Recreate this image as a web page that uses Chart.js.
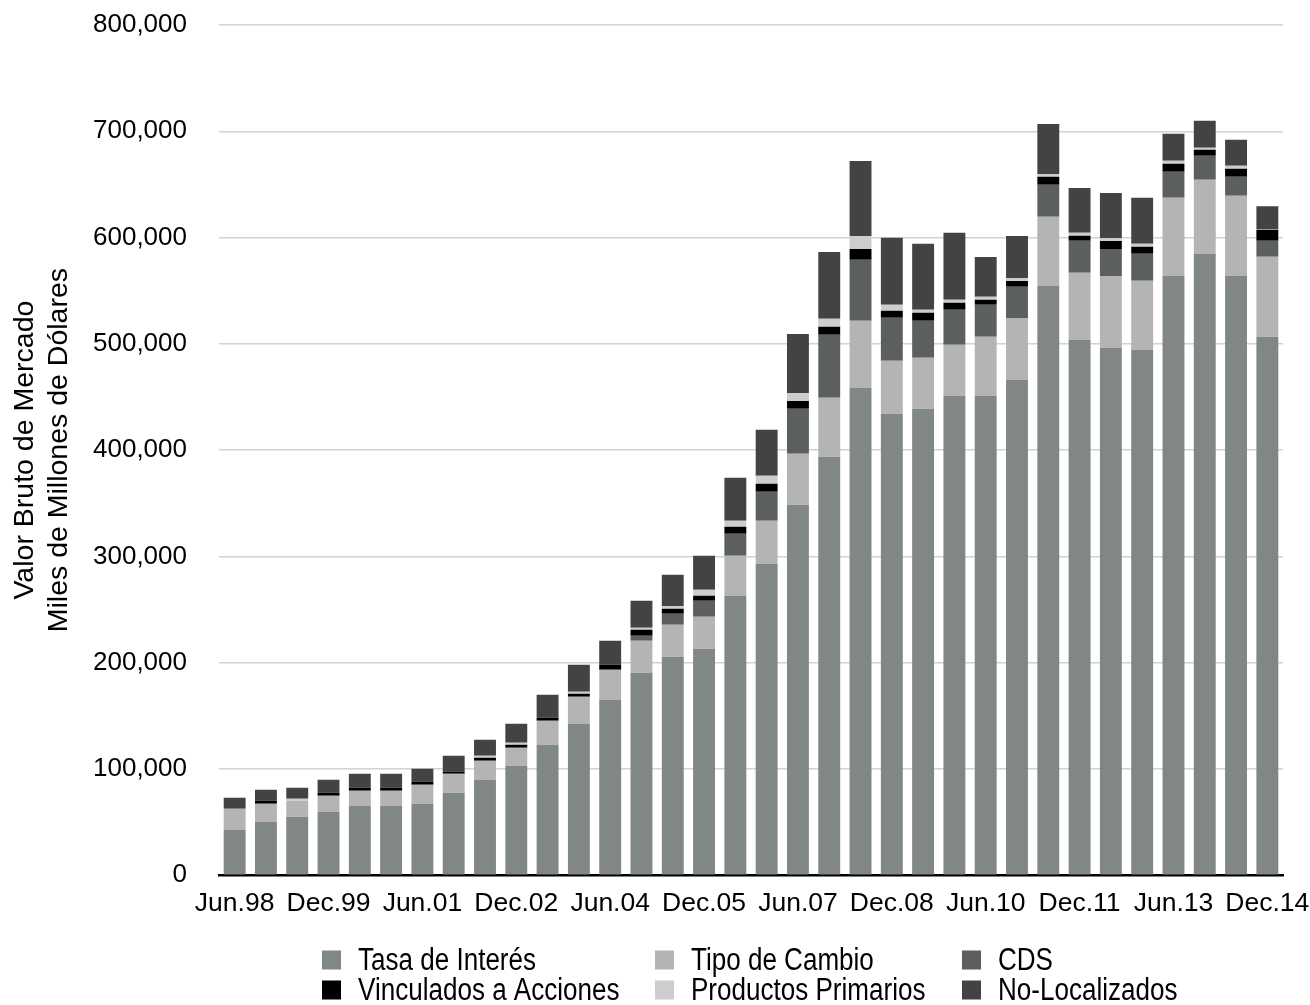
<!DOCTYPE html>
<html>
<head>
<meta charset="utf-8">
<script src="https://cdn.jsdelivr.net/npm/chart.js@4.4.1/dist/chart.umd.min.js"></script>
<style>
  html, body { margin: 0; padding: 0; background: #ffffff; }
  canvas { display: block; }
</style>
</head>
<body>
<canvas id="chart" width="1310" height="1005"></canvas>
<script>
// Semiannual periods, Jun.98 to Dec.14
const periods = [
  'Jun.98','Dec.98','Jun.99','Dec.99','Jun.00','Dec.00','Jun.01','Dec.01',
  'Jun.02','Dec.02','Jun.03','Dec.03','Jun.04','Dec.04','Jun.05','Dec.05',
  'Jun.06','Dec.06','Jun.07','Dec.07','Jun.08','Dec.08','Jun.09','Dec.09',
  'Jun.10','Dec.10','Jun.11','Dec.11','Jun.12','Dec.12','Jun.13','Dec.13',
  'Jun.14','Dec.14'
];

// Gross market value by risk category (miles de millones de dólares)
const tasaInteres = [
  42800, 50300, 55000, 59700, 65400, 65400, 67300, 77600,
  89800, 103000, 122800, 142500, 165100, 190500, 205500, 213100,
  263000, 293000, 348500, 393700, 458600, 434100, 438900, 451100,
  451100, 466100, 554600, 503800, 496200, 494400, 564000, 584700,
  564000, 506600
];
const tipoCambio = [
  19800, 16900, 15100, 15000, 14100, 14100, 17900, 17900,
  17900, 16900, 22600, 25400, 28200, 30100, 30100, 30100,
  37600, 40500, 48000, 55500, 63000, 49900, 48000, 48000,
  55500, 58300, 64900, 63000, 67700, 64900, 73400, 69600,
  75300, 75300
];
const cds = [
  0, 0, 0, 0, 0, 0, 0, 0,
  0, 0, 0, 0, 0, 4700, 10300, 15100,
  20700, 27300, 42300, 59300, 57400, 40500, 34800, 32900,
  30100, 29200, 30100, 30100, 25400, 25400, 24500, 22600,
  17900, 15100
];
const acciones = [
  0, 2800, 0, 2800, 2800, 2800, 2800, 1900,
  2800, 2800, 2800, 2800, 4700, 5600, 4700, 4700,
  6600, 7500, 7500, 7500, 10300, 6600, 7500, 6600,
  4700, 5600, 7500, 4700, 7500, 6600, 7500, 5600,
  7500, 10300
];
const primarios = [
  0, 0, 1900, 0, 0, 0, 0, 0,
  1900, 1900, 0, 1900, 0, 1900, 2800, 5600,
  5600, 7500, 7500, 7500, 12200, 5600, 2800, 2800,
  2800, 2800, 2800, 2800, 2800, 2800, 2800, 1900,
  2800, 500
];
const noLocalizados = [
  10300, 10300, 10300, 12200, 13200, 13200, 12200, 15000,
  15000, 17900, 21600, 25400, 22600, 25400, 29200, 32000,
  40500, 43300, 55500, 63000, 70600, 63000, 62100, 63000,
  37600, 39500, 47000, 42300, 42300, 43300, 25400, 25400,
  24500, 21600
];

const seriesNames = ['Tasa de Interés', 'Tipo de Cambio', 'CDS',
                     'Vinculados a Acciones', 'Productos Primarios', 'No-Localizados'];
const seriesData = [tasaInteres, tipoCambio, cds, acciones, primarios, noLocalizados];
const seriesColors = ['#818785', '#b4b4b4', '#5b5f5d', '#000000', '#cdcdcd', '#434343'];

const FONT = '"Liberation Sans", Arial, Helvetica, sans-serif';

// Legend laid out as a 3 x 2 grid under the plot, with narrow lettering
const gridLegend = {
  id: 'gridLegend',
  afterDraw(chart) {
    const ctx = chart.ctx;
    const colBox = [322, 655, 962];
    const rowMid = [960, 990];
    const box = 19;
    const squeeze = 0.84;
    ctx.save();
    ctx.font = '31px ' + FONT;
    ctx.textBaseline = 'middle';
    ctx.textAlign = 'left';
    chart.data.datasets.forEach((ds, i) => {
      const c = i % 3, r = Math.floor(i / 3);
      const x = colBox[c], y = rowMid[r];
      ctx.fillStyle = ds.backgroundColor;
      ctx.fillRect(x, y - box / 2, box, box);
      ctx.save();
      ctx.translate(x + box + 17, y + 1);
      ctx.scale(squeeze, 1);
      ctx.fillStyle = '#000000';
      ctx.fillText(ds.label, 0, 0);
      ctx.restore();
    });
    ctx.restore();
  }
};

new Chart(document.getElementById('chart'), {
  type: 'bar',
  data: {
    labels: periods,
    datasets: seriesNames.map((name, i) => ({
      label: name,
      data: seriesData[i],
      backgroundColor: seriesColors[i],
      borderWidth: 0,
      categoryPercentage: 1.0,
      barPercentage: 0.70
    }))
  },
  options: {
    responsive: false,
    devicePixelRatio: 1,
    animation: false,
    layout: { padding: { left: 0, right: 27, top: 25, bottom: 72 } },
    plugins: {
      legend: { display: false },
      tooltip: { enabled: false }
    },
    scales: {
      x: {
        stacked: true,
        offset: true,
        afterFit(scale) { scale.paddingLeft = 0; scale.paddingRight = 0; },
        grid: { display: false, drawTicks: false },
        border: { display: true, color: '#000000', width: 2.5 },
        ticks: {
          autoSkip: false,
          maxRotation: 0,
          minRotation: 0,
          padding: 13,
          color: '#000000',
          font: { family: FONT, size: 26.5 },
          callback: (v, idx) => (idx % 3 === 0 ? periods[idx] : '')
        }
      },
      y: {
        stacked: true,
        min: 0,
        max: 800000,
        afterFit(scale) {
          scale.width = 219;
          scale.paddingTop = 0;
          scale.paddingBottom = 0;
        },
        grid: { color: '#d2d2d2', lineWidth: 1.5, drawTicks: false },
        border: { display: false },
        ticks: {
          stepSize: 100000,
          padding: 32,
          color: '#000000',
          font: { family: FONT, size: 26 },
          callback: v => v.toLocaleString('en-US')
        },
        title: {
          display: true,
          text: ['Valor Bruto de Mercado', 'Miles de Millones de Dólares'],
          color: '#000000',
          padding: { top: 8, bottom: 0 },
          font: { family: FONT, size: 28.5, lineHeight: '34px' }
        }
      }
    }
  },
  plugins: [gridLegend]
});
</script>
</body>
</html>
